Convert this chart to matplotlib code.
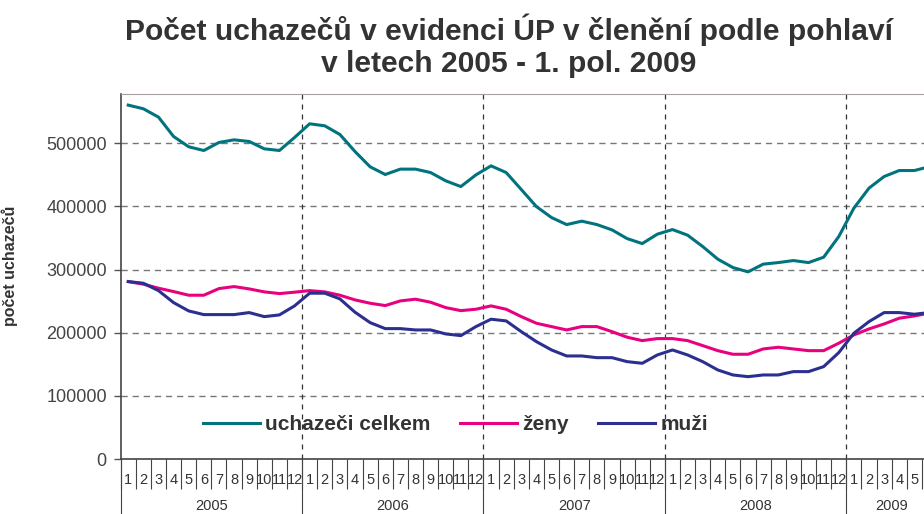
import matplotlib
matplotlib.use("Agg")
from matplotlib import pyplot as plt
import numpy as np

plt.rcParams['font.family'] = ['Liberation Sans', 'DejaVu Sans']

years = ['2005', '2006', '2007', '2008', '2009']
months_per_year = [12, 12, 12, 12, 6]

celkem = [560500, 554700, 541500, 510800, 494500, 488600, 501300, 505500, 502900, 491300, 488600, 509200,
          530900, 527700, 514000, 487000, 462800, 450600, 459100, 459100, 453700, 440600, 431500, 450000,
          464300, 453700, 426800, 399800, 382400, 371300, 376700, 371300, 362900, 349100, 341200, 356100,
          363400, 354500, 336500, 316500, 303200, 296400, 308600, 311100, 314300, 311100, 319600, 352300,
          397300, 429000, 447400, 456900, 456900, 463000]
zeny = [281000, 276900, 270500, 265200, 259400, 259400, 269900, 273100, 269400, 264700, 262000, 264200,
        266700, 264700, 259400, 252000, 246700, 243000, 250400, 253100, 248300, 239800, 235000, 237200,
        242500, 237200, 225500, 215000, 209700, 204400, 209700, 209700, 201700, 192900, 187500, 190700,
        190700, 187500, 179600, 171600, 165900, 165900, 174300, 177000, 174300, 171600, 171600, 183400,
        196500, 206000, 213900, 223000, 226600, 231000]
muzi = [281000, 278400, 266700, 247700, 234500, 228700, 228700, 228700, 231900, 225500, 228200, 242500,
        262600, 262600, 253600, 232500, 216000, 206500, 206500, 204400, 204400, 198100, 195400, 209700,
        221400, 218700, 201700, 185900, 172700, 163200, 163200, 160500, 160500, 154200, 151600, 164800,
        172700, 164800, 154200, 141000, 133100, 130400, 133100, 133100, 138400, 138400, 146300, 168500,
        199200, 217600, 231900, 231900, 229300, 232000]

month_labels = [str(m) for n in months_per_year for m in range(1, n + 1)]
n = len(month_labels)
x = np.arange(n) + 0.5
year_edges = np.concatenate([[0], np.cumsum(months_per_year)])
year_centers = (year_edges[:-1] + year_edges[1:]) / 2

fig = plt.figure(figsize=(9.24, 5.14), dpi=100)
ax = fig.add_axes([0.1306, 0.107, 0.8835, 0.710])

ax.plot(x, celkem, color='#00737f', lw=2.2, label='uchazeči celkem', solid_joinstyle='round', zorder=3)
ax.plot(x, zeny, color='#e8007f', lw=2.2, label='ženy', solid_joinstyle='round', zorder=3)
ax.plot(x, muzi, color='#2b2f8f', lw=2.2, label='muži', solid_joinstyle='round', zorder=3)

ax.set_xlim(0, n)
ax.set_ylim(0, 578000)
ax.set_yticks(np.arange(0, 600000, 100000))
ax.set_yticklabels([str(v) for v in range(0, 600000, 100000)])
ax.yaxis.grid(True, color='#777777', linestyle=(0, (4.5, 3.5)), lw=1.0)
for e in year_edges[1:-1]:
    ax.axvline(e, color='#333333', linestyle=(0, (4, 4)), lw=0.9)

ax.tick_params(axis='y', length=5, width=1, color='#555555', labelsize=13, labelcolor='#444444', pad=5)

# month boxes
ax.set_xticks(np.arange(n + 1))
ax.set_xticklabels([])
ax.set_xticks(x, minor=True)
ax.set_xticklabels(month_labels, minor=True)
ax.tick_params(axis='x', which='major', length=21.5, width=0.8, color='#444444', direction='out')
ax.tick_params(axis='x', which='minor', length=0, labelsize=10.5, labelcolor='#333333', pad=10)

# year row
sec = ax.secondary_xaxis('bottom')
sec.set_xticks(year_edges)
sec.set_xticklabels([])
sec.set_xticks(year_centers, minor=True)
sec.set_xticklabels(years, minor=True)
sec.tick_params(axis='x', which='major', length=45, width=0.8, color='#444444')
sec.tick_params(axis='x', which='minor', length=0, labelsize=10.5, labelcolor='#333333', pad=29)
sec.spines['bottom'].set_visible(False)

for s in ['left', 'bottom']:
    ax.spines[s].set_color('#444444')
    ax.spines[s].set_linewidth(1.2)
ax.spines['top'].set_color('#a8a0a0')
ax.spines['right'].set_visible(False)

ax.set_ylabel('počet uchazečů', fontsize=11.5, fontweight='bold', color='#333333')
ax.yaxis.set_label_coords(-0.1258, 0.529)

fig.text(0.551, 1 - 46 / 514, 'Počet uchazečů v evidenci ÚP v členění podle pohlaví\nv letech 2005 - 1. pol. 2009',
         ha='center', va='center', fontsize=21.6, fontweight='bold', color='#333333', linespacing=1.18)

leg = ax.legend(loc='center left', ncol=3, frameon=False, handlelength=2.75, handletextpad=0.25,
                columnspacing=1.4, prop={'size': 15, 'weight': 'bold'})
for t in leg.get_texts():
    t.set_color('#333333')
leg.set_bbox_to_anchor((0.199, (514 - 425) / 514), transform=fig.transFigure)

fig.savefig('out.png', dpi=100)
